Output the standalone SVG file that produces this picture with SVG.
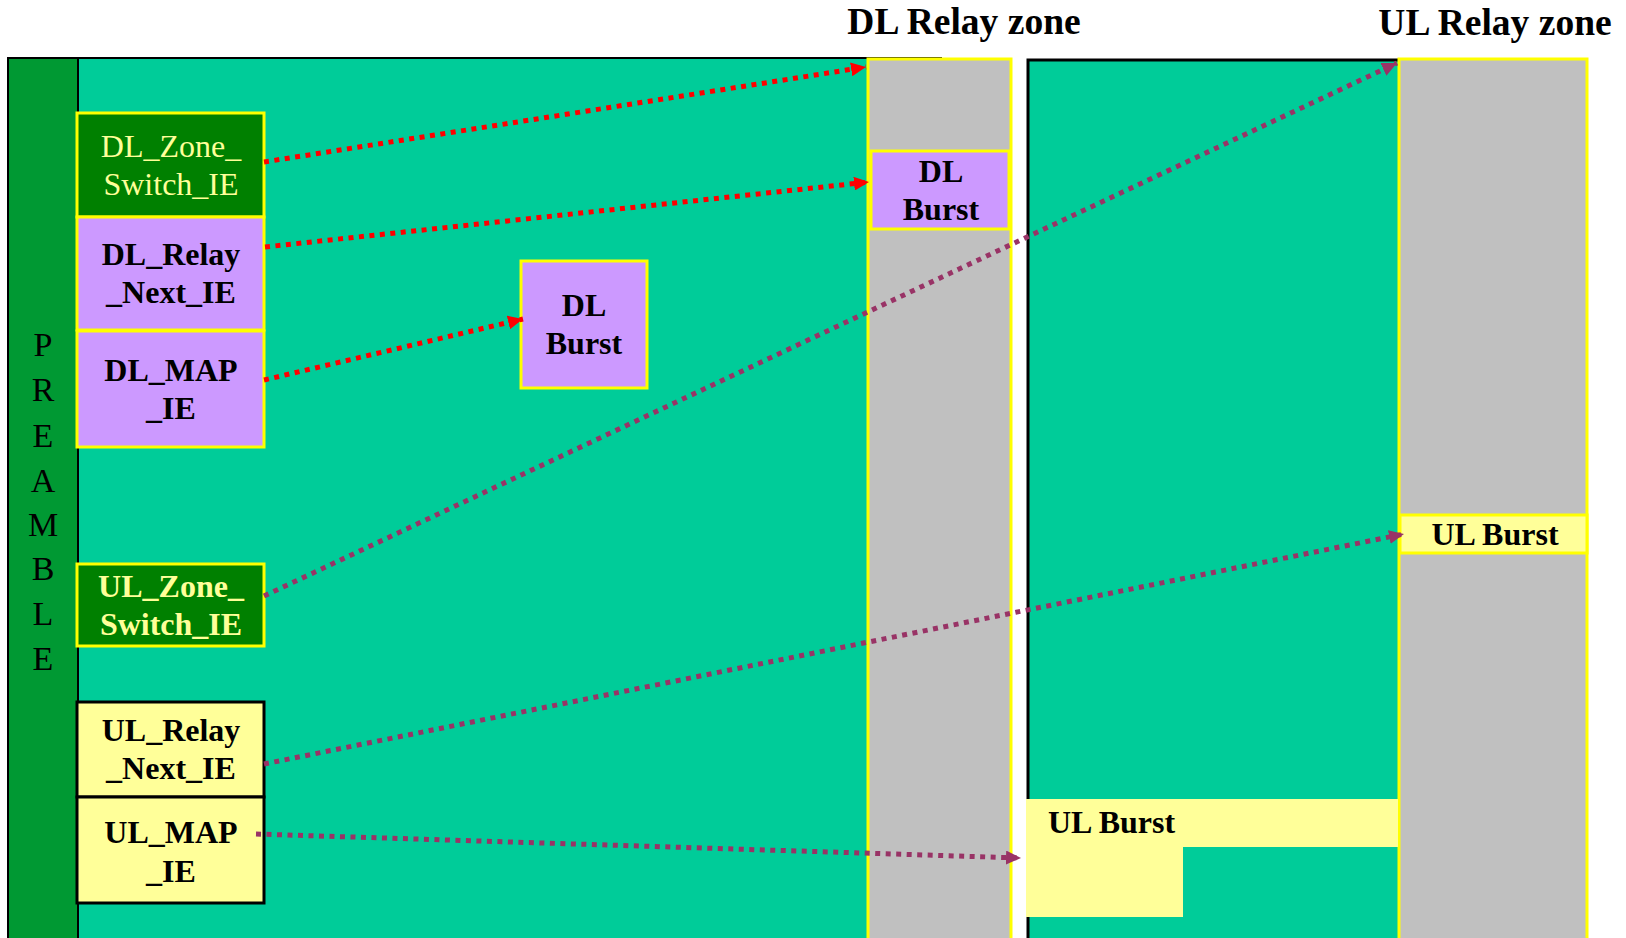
<svg xmlns="http://www.w3.org/2000/svg" width="1626" height="938" viewBox="0 0 1626 938">
<style>
.t{font-family:"Liberation Serif","Times New Roman",serif;text-anchor:middle}
.b{font-weight:bold}
.s32{font-size:32px}
.ybox{stroke:#FFFF00;stroke-width:3}
.kbox{stroke:#000000;stroke-width:3}
.red{fill:none;stroke:#FF0000;stroke-width:5;stroke-dasharray:5 5.5}
.pur{fill:none;stroke:#993366;stroke-width:5;stroke-dasharray:5 5.5}
</style>
<defs>
<marker id="ar" markerUnits="userSpaceOnUse" markerWidth="16" markerHeight="14" refX="15" refY="7" orient="auto"><path d="M0,0 L15,7 L0,14 z" fill="#FF0000"/></marker>
<marker id="ap" markerUnits="userSpaceOnUse" markerWidth="16" markerHeight="14" refX="15" refY="7" orient="auto"><path d="M0,0 L15,7 L0,14 z" fill="#993366"/></marker>
</defs>
<rect width="1626" height="938" fill="#FFFFFF"/>
<g id="frame-dl">
<rect x="8" y="58" width="70" height="890" fill="#009933" stroke="#000" stroke-width="2"/>
<rect x="79" y="59" width="789" height="890" fill="#00CC99"/>
<line x1="7" y1="58" x2="942" y2="58" stroke="#000" stroke-width="2"/>
</g>
<g id="preamble">
<text class="t" font-size="34" x="43" y="356">P</text>
<text class="t" font-size="34" x="43" y="401">R</text>
<text class="t" font-size="34" x="43" y="447">E</text>
<text class="t" font-size="34" x="43" y="492">A</text>
<text class="t" font-size="34" x="43" y="536">M</text>
<text class="t" font-size="34" x="43" y="580">B</text>
<text class="t" font-size="34" x="43" y="625">L</text>
<text class="t" font-size="34" x="43" y="670">E</text>
</g>
<g id="dl-relay-zone">
<rect x="868" y="59" width="143" height="890" fill="#C0C0C0" class="ybox"/>
<text class="t b" font-size="37.5" x="964" y="34">DL Relay zone</text>
</g>
<g id="frame-ul">
<rect x="1028" y="60" width="372" height="890" fill="#00CC99" stroke="#000" stroke-width="3"/>
</g>
<g id="ul-relay-zone">
<rect x="1399" y="59" width="188" height="890" fill="#C0C0C0" class="ybox"/>
<text class="t b" font-size="37.5" x="1495" y="35">UL Relay zone</text>
</g>
<g id="dl-zone-switch-ie">
<rect x="77" y="113" width="187" height="104" fill="#008000" class="ybox"/>
<text class="t s32" fill="#FFFF99" x="171" y="157">DL_Zone_</text>
<text class="t s32" fill="#FFFF99" x="171" y="195">Switch_IE</text>
</g>
<g id="dl-relay-next-ie">
<rect x="77" y="217" width="187" height="113" fill="#CC99FF" class="ybox"/>
<text class="t b s32" x="171" y="265">DL_Relay</text>
<text class="t b s32" x="171" y="303">_Next_IE</text>
</g>
<g id="dl-map-ie">
<rect x="77" y="331" width="187" height="116" fill="#CC99FF" class="ybox"/>
<text class="t b s32" x="171" y="381">DL_MAP</text>
<text class="t b s32" x="171" y="419">_IE</text>
</g>
<g id="ul-zone-switch-ie">
<rect x="77" y="564" width="187" height="82" fill="#008000" class="ybox"/>
<text class="t b s32" fill="#FFFF99" x="171" y="597">UL_Zone_</text>
<text class="t b s32" fill="#FFFF99" x="171" y="635">Switch_IE</text>
</g>
<g id="ul-relay-next-ie">
<rect x="77" y="702" width="187" height="95" fill="#FFFF99" class="kbox"/>
<text class="t b s32" x="171" y="741">UL_Relay</text>
<text class="t b s32" x="171" y="779">_Next_IE</text>
</g>
<g id="ul-map-ie">
<rect x="77" y="797" width="187" height="106" fill="#FFFF99" class="kbox"/>
<text class="t b s32" x="171" y="843">UL_MAP</text>
<text class="t b s32" x="171" y="882">_IE</text>
</g>
<g id="dl-burst-mid">
<rect x="521" y="261" width="126" height="127" fill="#CC99FF" class="ybox"/>
<text class="t b s32" x="584" y="316">DL</text>
<text class="t b s32" x="584" y="354">Burst</text>
</g>
<g id="dl-burst-relay">
<rect x="871" y="151" width="138" height="78" fill="#CC99FF" class="ybox"/>
<text class="t b s32" x="941" y="182">DL</text>
<text class="t b s32" x="941" y="220">Burst</text>
</g>
<g id="ul-burst-relay">
<rect x="1400" y="515" width="187" height="38" fill="#FFFF99" class="ybox"/>
<text class="t b s32" x="1495" y="545">UL Burst</text>
</g>
<g id="ul-burst-access">
<path d="M1026,799 H1398 V847 H1183 V917 H1026 Z" fill="#FFFF99"/>
<text class="t b s32" x="1048" y="833" style="text-anchor:start">UL Burst</text>
</g>
<g id="connectors">
<line class="red" x1="264" y1="162" x2="866" y2="67" marker-end="url(#ar)"/>
<line class="red" x1="265" y1="247" x2="869" y2="182" marker-end="url(#ar)"/>
<line class="red" x1="264" y1="380" x2="523" y2="319" marker-end="url(#ar)"/>
<line class="pur" x1="264" y1="596" x2="1397" y2="63" marker-end="url(#ap)"/>
<line class="pur" x1="264" y1="764" x2="1404" y2="534" marker-end="url(#ap)"/>
<line class="pur" x1="256" y1="834" x2="1021" y2="858" marker-end="url(#ap)"/>
</g>
</svg>
